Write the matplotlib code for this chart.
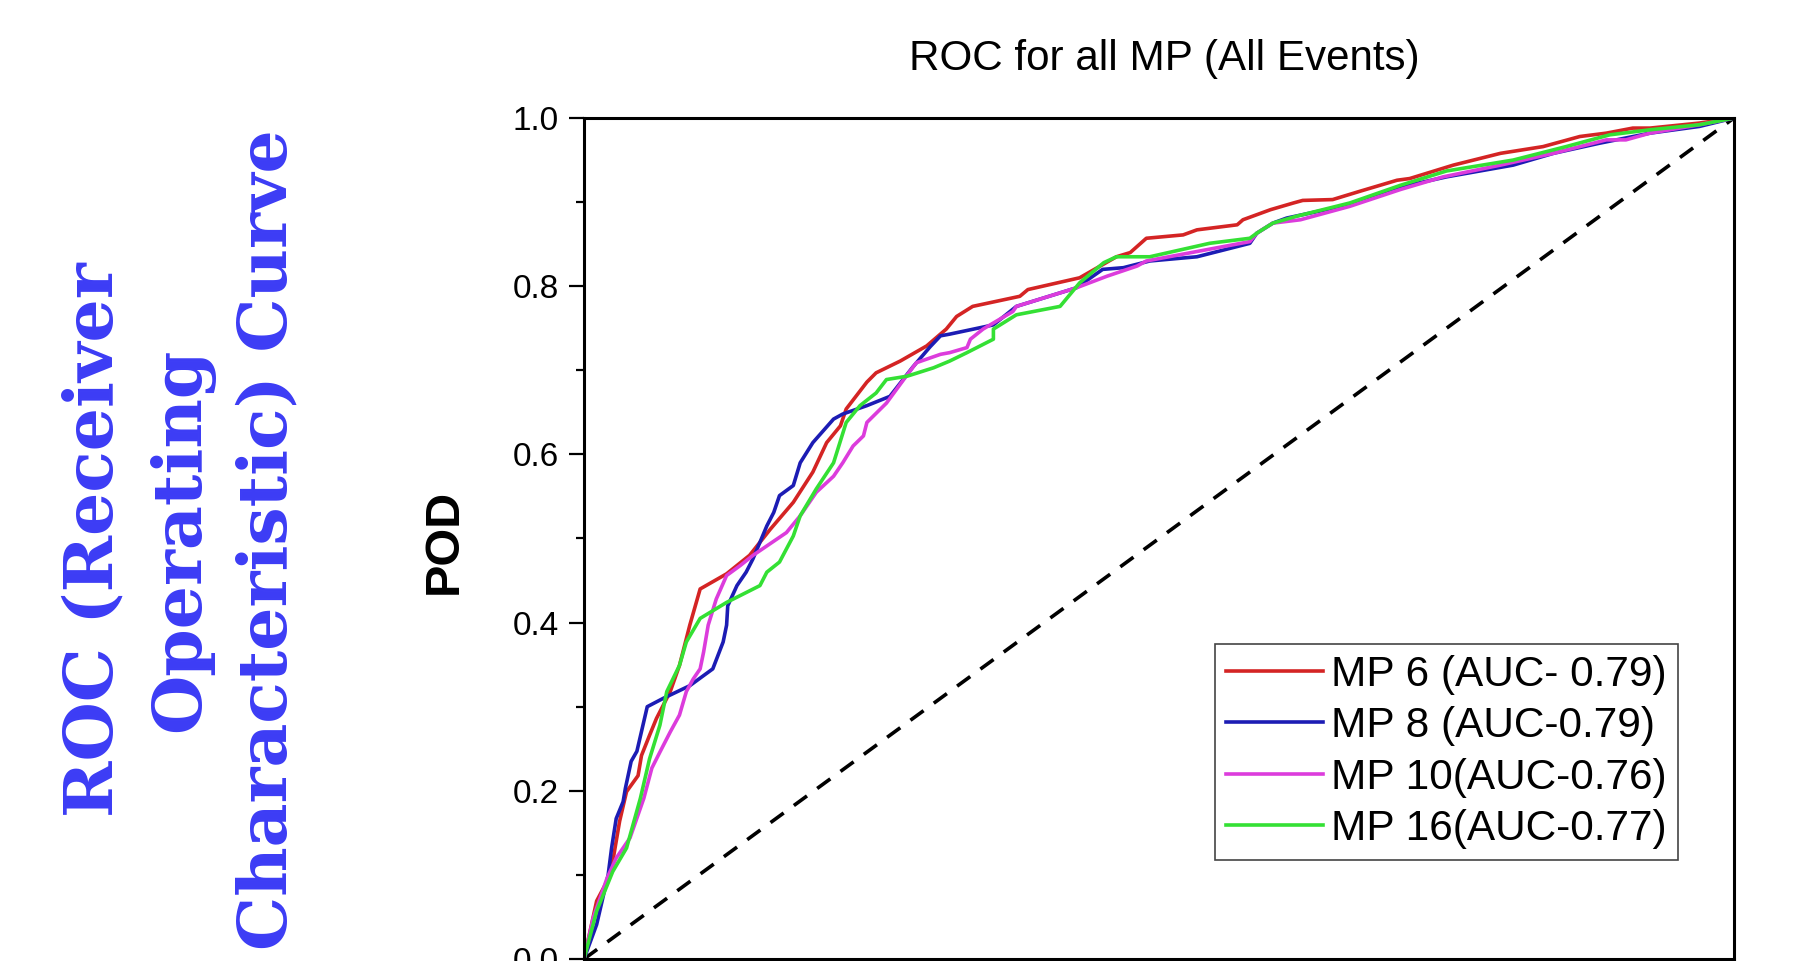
import numpy as np
import matplotlib
matplotlib.use("Agg")
import matplotlib.pyplot as plt

plt.rcParams['font.family'] = ['Liberation Sans', 'DejaVu Sans']

# ROC points (FAR, POD)
mp6_x = [0.0, 0.011, 0.023, 0.031, 0.037, 0.047, 0.050, 0.057, 0.063, 0.075, 0.083, 0.092, 0.101,
         0.124, 0.144, 0.162, 0.182, 0.199, 0.211, 0.223, 0.228, 0.246, 0.254, 0.275, 0.298, 0.315,
         0.324, 0.338, 0.379, 0.386, 0.431, 0.463, 0.475, 0.489, 0.521, 0.533, 0.568, 0.573, 0.597,
         0.617, 0.625, 0.651, 0.675, 0.707, 0.718, 0.756, 0.797, 0.834, 0.866, 0.889, 0.912, 0.927,
         0.970, 1.0]
mp6_y = [0.0, 0.069, 0.100, 0.164, 0.199, 0.218, 0.242, 0.266, 0.286, 0.318, 0.349, 0.397, 0.440,
         0.458, 0.480, 0.511, 0.543, 0.579, 0.614, 0.634, 0.654, 0.686, 0.697, 0.711, 0.729, 0.749,
         0.764, 0.776, 0.788, 0.796, 0.810, 0.835, 0.840, 0.857, 0.861, 0.867, 0.873, 0.879, 0.891,
         0.899, 0.902, 0.903, 0.913, 0.926, 0.928, 0.944, 0.958, 0.966, 0.978, 0.982, 0.988, 0.988,
         0.994, 1.0]

mp8_x = [0.0, 0.011, 0.021, 0.024, 0.028, 0.034, 0.036, 0.041, 0.046, 0.055, 0.069, 0.092, 0.112,
         0.121, 0.124, 0.125, 0.133, 0.141, 0.147, 0.159, 0.165, 0.170, 0.182, 0.188, 0.199, 0.217,
         0.225, 0.246, 0.266, 0.286, 0.301, 0.310, 0.318, 0.356, 0.376, 0.428, 0.451, 0.469, 0.492,
         0.533, 0.579, 0.585, 0.599, 0.611, 0.666, 0.710, 0.750, 0.808, 0.843, 0.883, 0.927, 0.970,
         1.0]
mp8_y = [0.0, 0.041, 0.100, 0.132, 0.167, 0.187, 0.203, 0.235, 0.247, 0.300, 0.310, 0.325, 0.345,
         0.377, 0.397, 0.420, 0.444, 0.460, 0.476, 0.515, 0.531, 0.551, 0.563, 0.590, 0.614, 0.642,
         0.648, 0.658, 0.669, 0.704, 0.728, 0.741, 0.743, 0.754, 0.776, 0.798, 0.820, 0.822, 0.830,
         0.835, 0.851, 0.863, 0.875, 0.881, 0.897, 0.918, 0.930, 0.944, 0.958, 0.970, 0.982, 0.990,
         1.0]

mp10_x = [0.0, 0.008, 0.020, 0.028, 0.040, 0.052, 0.059, 0.066, 0.075, 0.083, 0.089, 0.095, 0.101,
          0.104, 0.108, 0.115, 0.124, 0.136, 0.147, 0.176, 0.188, 0.202, 0.217, 0.225, 0.234, 0.243,
          0.246, 0.263, 0.278, 0.289, 0.310, 0.318, 0.333, 0.336, 0.347, 0.373, 0.376, 0.428, 0.455,
          0.481, 0.489, 0.579, 0.585, 0.599, 0.623, 0.666, 0.710, 0.747, 0.797, 0.843, 0.889, 0.906,
          0.927, 0.970, 1.0]
mp10_y = [0.0, 0.049, 0.096, 0.120, 0.144, 0.191, 0.227, 0.246, 0.270, 0.290, 0.318, 0.333, 0.345,
          0.365, 0.397, 0.428, 0.456, 0.468, 0.480, 0.507, 0.527, 0.555, 0.574, 0.590, 0.610, 0.622,
          0.638, 0.661, 0.689, 0.709, 0.719, 0.721, 0.727, 0.737, 0.749, 0.770, 0.776, 0.798, 0.812,
          0.824, 0.830, 0.853, 0.863, 0.875, 0.879, 0.895, 0.915, 0.930, 0.944, 0.958, 0.974, 0.974,
          0.982, 0.992, 1.0]

mp16_x = [0.0, 0.011, 0.025, 0.037, 0.049, 0.057, 0.066, 0.072, 0.083, 0.089, 0.101, 0.124, 0.153,
          0.159, 0.170, 0.182, 0.188, 0.202, 0.217, 0.228, 0.240, 0.254, 0.263, 0.281, 0.304, 0.318,
          0.333, 0.356, 0.356, 0.376, 0.414, 0.431, 0.452, 0.463, 0.492, 0.544, 0.579, 0.585, 0.599,
          0.619, 0.666, 0.710, 0.750, 0.808, 0.854, 0.892, 0.927, 0.970, 1.0]
mp16_y = [0.0, 0.057, 0.104, 0.132, 0.191, 0.238, 0.278, 0.318, 0.349, 0.377, 0.405, 0.424, 0.444,
          0.460, 0.472, 0.503, 0.527, 0.559, 0.590, 0.638, 0.658, 0.673, 0.689, 0.693, 0.703, 0.711,
          0.721, 0.737, 0.749, 0.766, 0.776, 0.804, 0.828, 0.835, 0.835, 0.851, 0.857, 0.863, 0.875,
          0.883, 0.899, 0.920, 0.937, 0.950, 0.966, 0.980, 0.986, 0.992, 1.0]

labels = ['MP 6 (AUC- 0.79)', 'MP 8 (AUC-0.79)', 'MP 10(AUC-0.76)', 'MP 16(AUC-0.77)']
colors = ['#d42424', '#1c1cb4', '#dc3cdc', '#34e034']

fig = plt.figure(figsize=(17.93, 9.61), dpi=100)
ax = fig.add_axes([584/1793, 2/961, 1150/1793, 841/961])

ax.plot([0, 1], [0, 1], color='black', lw=2.6, ls=(0, (4.5, 3.5)))
for xs, ys, lab, c in zip([mp6_x, mp8_x, mp10_x, mp16_x], [mp6_y, mp8_y, mp10_y, mp16_y], labels, colors):
    ax.plot(xs, ys, color=c, lw=2.6, label=lab)

ax.set_xlim(0, 1)
ax.set_ylim(0, 1)
ax.set_yticks(np.arange(0, 1.01, 0.2))
ax.set_yticks(np.arange(0.1, 1.0, 0.2), minor=True)
ax.set_yticklabels(['0.0', '0.2', '0.4', '0.6', '0.8', '1.0'])
ax.tick_params(axis='y', which='major', direction='out', length=11, width=1.6, labelsize=24, pad=7)
ax.tick_params(axis='y', which='minor', direction='out', length=6, width=1.6)
ax.tick_params(axis='x', which='both', bottom=False, labelbottom=False)
for s in ax.spines.values():
    s.set_linewidth(2.2)

leg = ax.legend(loc='lower right', bbox_to_anchor=(0.951, 0.118), borderaxespad=0,
                fontsize=30.5, handlelength=2.3, handletextpad=0.2, labelspacing=0.27,
                borderpad=0.25, fancybox=False, framealpha=1)
leg.get_frame().set_edgecolor('#444444')
leg.get_frame().set_linewidth(1.2)

fig.text(1164/1793, 1 - 59/961, 'ROC for all MP (All Events)', ha='center', va='center', fontsize=30.3)
fig.text(444/1793, 1 - 541/961, 'POD', ha='center', va='center', rotation=90,
         fontsize=35, fontweight='bold')
fig.text(181/1793, 1 - 540/961, 'ROC (Receiver\nOperating\nCharacteristic) Curve',
         ha='center', va='center', rotation=90, multialignment='center', linespacing=1.42,
         fontsize=49, fontweight='bold', color='#3c3cf5', family='DejaVu Serif')

fig.savefig('out.png', dpi=100)
